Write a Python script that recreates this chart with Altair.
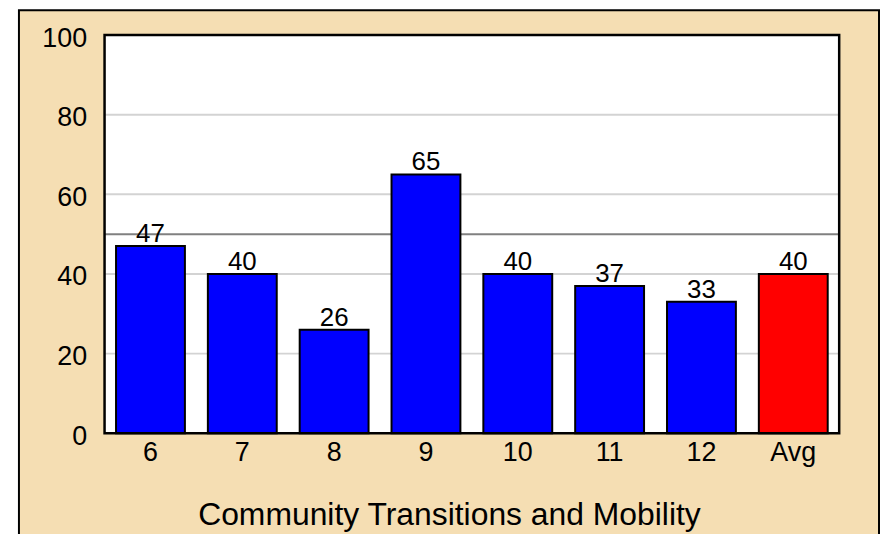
import altair as alt
import pandas as pd

categories = ["6", "7", "8", "9", "10", "11", "12", "Avg"]
values = [47, 40, 26, 65, 40, 37, 33, 40]
groups = ["Grade", "Grade", "Grade", "Grade", "Grade", "Grade", "Grade", "Average"]
grid_minor = [20, 40, 60, 80]
grid_ref = [50]
y_ticks = [0, 20, 40, 60, 80, 100]
title_text = "Community Transitions and Mobility"

W, H = 738, 400
FONT = "Liberation Sans"

bars_df = pd.DataFrame({"cat": categories, "value": values, "group": groups})
minor_df = pd.DataFrame({"value": grid_minor})
ref_df = pd.DataFrame({"value": grid_ref})
one = pd.DataFrame({"k": [0]})

y_enc = alt.Y(
    "value:Q",
    scale=alt.Scale(domain=[0, 100], nice=False),
    axis=alt.Axis(
        values=y_ticks, title=None, domain=False, ticks=False, grid=False,
        labelFont=FONT, labelFontSize=27, labelColor="black", labelPadding=18,
        labelOffset=3, zindex=1,
    ),
)
x_enc = alt.X(
    "cat:N", sort=categories,
    scale=alt.Scale(paddingInner=0.25, paddingOuter=0.125),
    axis=alt.Axis(
        title=title_text, labelAngle=0, domain=False, ticks=False, grid=False,
        labelFont=FONT, labelFontSize=27, labelColor="black", labelPadding=6,
        titleFont=FONT, titleFontSize=32, titleFontWeight="normal", titleColor="black",
        titleX=346, titleY=92, titleBaseline="alphabetic", titleAlign="center",
        zindex=1,
    ),
)

frame = alt.Chart(one).mark_rect(fill="#f5deb3", stroke="black", strokeWidth=2).encode(
    x=alt.value(-86), x2=alt.value(778), y=alt.value(-25), y2=alt.value(640)
)
plotbg = alt.Chart(one).mark_rect(fill="white").encode(
    x=alt.value(0), x2=alt.value(W), y=alt.value(0), y2=alt.value(H)
)
minor = alt.Chart(minor_df).mark_rule(color="#d3d3d3", strokeWidth=2).encode(y=y_enc)
ref = alt.Chart(ref_df).mark_rule(color="#808080", strokeWidth=2).encode(y=y_enc)
bars = alt.Chart(bars_df).mark_bar(stroke="black", strokeWidth=2).encode(
    x=x_enc, y=y_enc,
    color=alt.Color("group:N", scale=alt.Scale(domain=["Grade", "Average"], range=["#0000ff", "#ff0000"]), legend=None),
)
labels = alt.Chart(bars_df).mark_text(
    dy=-4, baseline="alphabetic", font=FONT, fontSize=26, color="black"
).encode(x=x_enc, y=y_enc, text="value:Q")
border = alt.Chart(one).mark_rect(fillOpacity=0, stroke="black", strokeWidth=2.5).encode(
    x=alt.value(0), x2=alt.value(W), y=alt.value(0), y2=alt.value(H)
)

chart = alt.layer(frame, plotbg, minor, ref, bars, labels, border).properties(
    width=W, height=H,
    padding={"left": 97, "top": 26, "right": 41, "bottom": 100},
    autosize=alt.AutoSizeParams(type="none"),
    background="white",
).configure_view(strokeWidth=0)

chart.save("out.html", embed_options={"renderer": "svg", "actions": False})
